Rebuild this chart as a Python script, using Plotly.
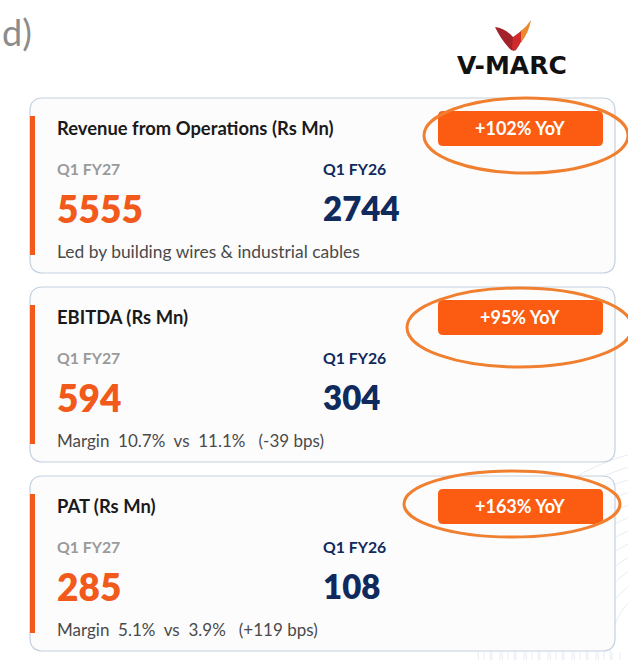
import plotly.graph_objects as go

titles = ["Revenue from Operations (Rs Mn)", "EBITDA (Rs Mn)", "PAT (Rs Mn)"]
current_values = ["5555", "594", "285"]
prior_values = ["2744", "304", "108"]
badges = ["+102% YoY", "+95% YoY", "+163% YoY"]
notes = ["Led by building wires & industrial cables",
         "Margin  10.7%  vs  11.1%   (-39 bps)",
         "Margin  5.1%  vs  3.9%   (+119 bps)"]
current_label = "Q1 FY27"
prior_label = "Q1 FY26"

card_tops = [98, 287, 476]
ellipses = [(424, 98, 628, 173), (407, 288, 632, 367), (404, 471, 620, 537)]
FONT = "Lato"
ORANGE = "#F15A1B"
NAVY = "#0F2A5C"


def rr(x0, y0, x1, y1, r):
    return (f"M{x0+r},{y0} L{x1-r},{y0} Q{x1},{y0} {x1},{y0+r} L{x1},{y1-r} Q{x1},{y1} {x1-r},{y1} "
            f"L{x0+r},{y1} Q{x0},{y1} {x0},{y1-r} L{x0},{y0+r} Q{x0},{y0} {x0+r},{y0} Z")


fig = go.Figure()
shapes, ann = [], []


def text(x, y, s, size, color, anchor="left", weight=400, font=FONT):
    ann.append(dict(x=x, y=y, text=s, showarrow=False, xanchor=anchor, yanchor="middle", xref="x", yref="y",
                    font=dict(family=font, size=size, color=color, weight=weight)))


# faint background arcs and ticks, lower right
for i in range(12):
    r = 70 + i * 12
    shapes.append(dict(type="circle", x0=680 - r, x1=680 + r, y0=650 - r, y1=650 + r,
                       line=dict(color="#E9ECF1", width=1), layer="below"))
for i in range(18):
    x = 484 + i * 8
    shapes.append(dict(type="line", x0=x, x1=x, y0=652, y1=660, line=dict(color="#E9ECF1", width=1), layer="below"))

for i, top in enumerate(card_tops):
    bot = top + 175
    shapes.append(dict(type="path", path=rr(30, top, 615, bot, 13), fillcolor="#FCFCFD",
                       line=dict(color="#C3D0E0", width=1.2)))
    shapes.append(dict(type="rect", x0=30, x1=35, y0=top + 18, y1=bot - 18, fillcolor=ORANGE, line_width=0))
    shapes.append(dict(type="path", path=rr(438, top + 13, 603, top + 48, 5), fillcolor="#FB5C12", line_width=0))
    e = ellipses[i]
    shapes.append(dict(type="circle", x0=e[0], y0=e[1], x1=e[2], y1=e[3], line=dict(color="#F08030", width=3)))
    text(55, top + 30, titles[i], 18.4, "#1A1A1A", weight=700)
    text(520, top + 30, badges[i], 18, "#FFFFFF", anchor="center", weight=700)
    text(55, top + 70, current_label, 15.8, "#9A9A9A", weight=700)
    text(321, top + 70, prior_label, 15.8, NAVY, weight=700)
    text(55, top + 110, current_values[i], 37, ORANGE, weight=800)
    text(321, top + 110, prior_values[i], 33, NAVY, weight=800)
    text(55, top + 153, notes[i], 17.4 if i == 0 else 17, "#4A4A4A")

text(0, 32, "d)", 36, "#8C8C8C", weight=400)

# logo
shapes.append(dict(type="path", path="M495,27 Q505,28 513,37 L516,50 Q512,52 509,48 Q500,38 495,27 Z", fillcolor="#A4232B", line_width=0))
shapes.append(dict(type="path", path="M513,37 Q519,33 522,30 L522,40 Q519,46 516,50 Q513,51 512,48 Z", fillcolor="#CF2A2C", line_width=0))
shapes.append(dict(type="path", path="M521,31 Q527,26 531,20 Q529,32 521,43 Z", fillcolor="#EA8A2C", line_width=0))
text(511.5, 65, "V-MARC", 25, "#111111", anchor="center", weight=700, font="DejaVu Sans")

fig.update_layout(width=628, height=660, margin=dict(l=0, r=0, t=0, b=0), paper_bgcolor="white",
                  plot_bgcolor="white", shapes=shapes, annotations=ann, showlegend=False,
                  xaxis=dict(range=[0, 628], visible=False, fixedrange=True),
                  yaxis=dict(range=[660, 0], visible=False, fixedrange=True))
fig.write_html("out.html", post_script="document.body.style.margin='0';", config=dict(displayModeBar=False))
